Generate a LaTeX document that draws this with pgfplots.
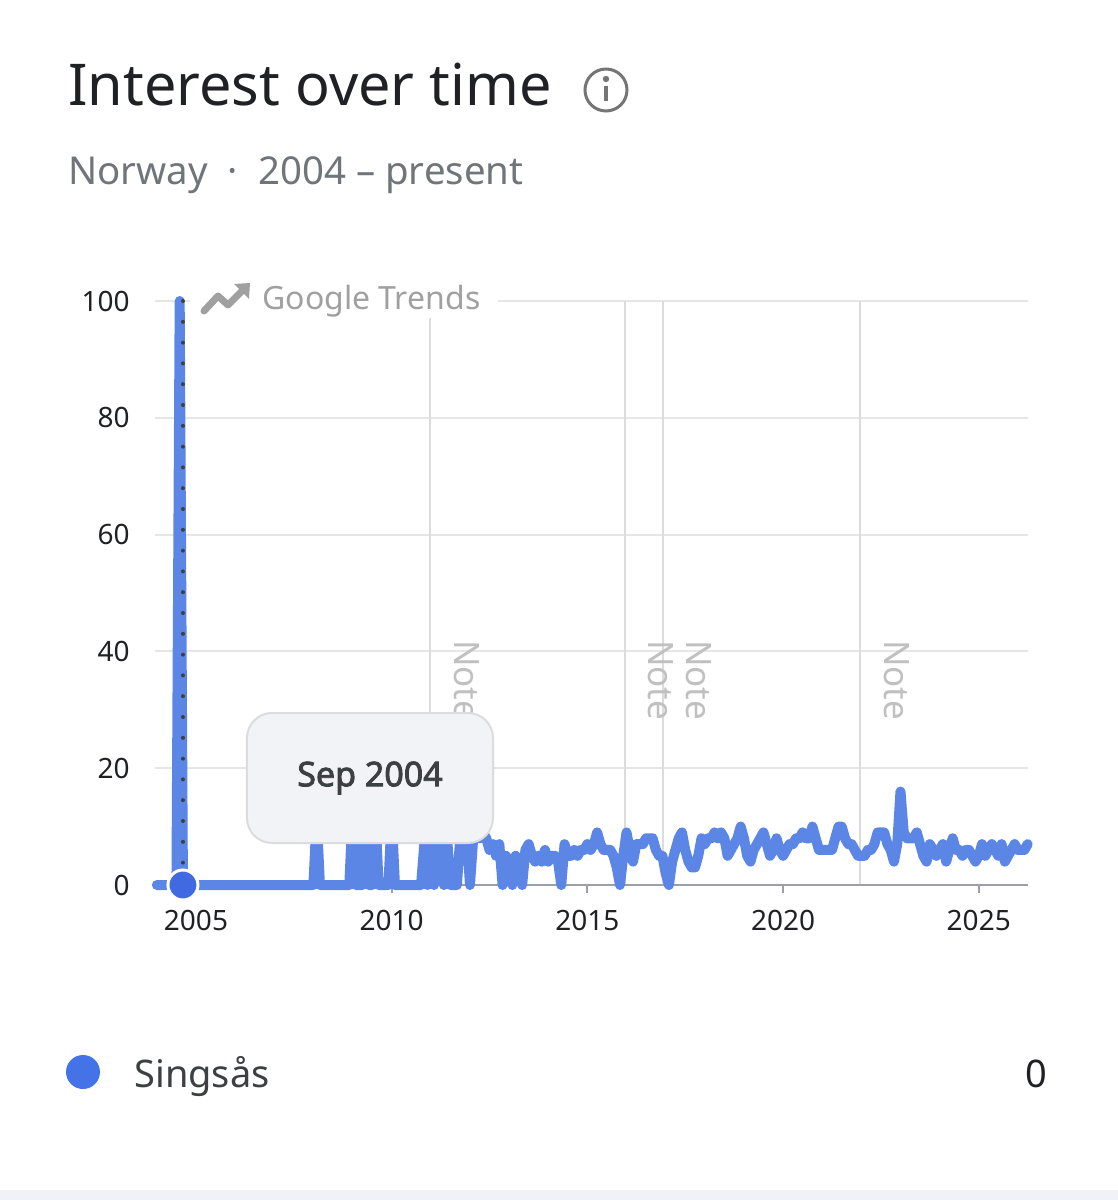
\documentclass[border=0pt]{standalone}
\usepackage{fontspec}
\setmainfont{Noto Sans}
\newfontfamily\tipfont{Noto Sans}[FakeBold=2.5]
\usepackage{pgfplots}
\usepackage{pgfplotstable}
\pgfplotsset{compat=1.18}
\definecolor{linecol}{RGB}{91,134,230}
\definecolor{dotcol}{RGB}{65,105,225}
\definecolor{legcol}{RGB}{68,115,232}
\definecolor{titlecol}{RGB}{32,33,36}
\definecolor{subcol}{RGB}{112,117,122}
\definecolor{tickcol}{RGB}{32,33,36}
\definecolor{gridcol}{RGB}{230,230,230}
\definecolor{notecol}{RGB}{220,220,222}
\definecolor{notetext}{RGB}{192,192,192}
\definecolor{axiscol}{RGB}{154,160,166}
\definecolor{logocol}{RGB}{160,160,160}
\definecolor{tipfill}{RGB}{241,243,247}
\definecolor{tipdraw}{RGB}{218,220,224}
\definecolor{tiptext}{RGB}{60,64,67}
\definecolor{bandcol}{RGB}{240,242,248}
\definecolor{dotline}{RGB}{60,64,67}
\definecolor{iconcol}{RGB}{117,117,117}

% monthly values, Jan 2004 ... Apr 2026 (one row of 12 per year)
\pgfplotstableread[row sep=\\]{
v\\
0\\0\\0\\0\\0\\0\\0\\100\\0\\0\\0\\0\\
0\\0\\0\\0\\0\\0\\0\\0\\0\\0\\0\\0\\
0\\0\\0\\0\\0\\0\\0\\0\\0\\0\\0\\0\\
0\\0\\0\\0\\0\\0\\0\\0\\0\\0\\0\\0\\
0\\12\\0\\0\\0\\0\\0\\0\\0\\0\\0\\0\\
12\\0\\0\\0\\12\\0\\0\\12\\0\\0\\0\\0\\
12\\0\\0\\0\\0\\0\\0\\0\\0\\0\\7\\0\\
8\\0\\9\\7\\0\\8\\0\\0\\0\\8\\7\\9\\
0\\8\\9\\8\\9\\8\\6\\7\\5\\7\\0\\5\\
4\\0\\5\\4\\0\\6\\7\\5\\4\\5\\4\\6\\
4\\5\\5\\4\\0\\7\\5\\5\\6\\5\\6\\6\\
7\\6\\7\\9\\7\\6\\6\\6\\5\\3\\0\\5\\
9\\6\\4\\7\\7\\7\\8\\8\\8\\6\\5\\5\\
2\\0\\4\\6\\8\\9\\6\\4\\3\\3\\5\\8\\
7\\8\\8\\9\\8\\9\\8\\5\\6\\7\\8\\10\\
8\\5\\4\\6\\7\\8\\9\\7\\5\\6\\8\\6\\
5\\6\\7\\7\\8\\8\\9\\8\\8\\10\\8\\6\\
6\\6\\6\\6\\8\\10\\10\\8\\7\\7\\6\\5\\
5\\5\\6\\6\\7\\9\\9\\9\\7\\6\\4\\7\\
16\\9\\8\\8\\8\\9\\7\\5\\4\\7\\6\\5\\
6\\7\\4\\6\\8\\6\\6\\5\\6\\6\\5\\4\\
5\\7\\5\\6\\7\\6\\5\\7\\4\\5\\6\\7\\
6\\6\\6\\7\\
}\trend

\begin{document}
\begin{tikzpicture}
% pixel frame: (px,py) from top-left of the 1118x1200 picture
\begin{scope}[x=0.5pt, y=-0.5pt, shift={(-77.5pt,442.5pt)}]
\fill[white] (0,0) rectangle (1118,1200);
\path[use as bounding box] (0,0) rectangle (1118,1200);
\fill[bandcol] (0,1190) rectangle (1118,1200);
\node[anchor=base west, inner sep=0pt, text=titlecol, font=\fontsize{28.8pt}{34pt}\selectfont] at (68,106) {Interest over time};
\draw[iconcol, line width=1.5pt] (606,90) circle (10.5pt);
\fill[iconcol] (606,79) circle (1.6pt);
\fill[iconcol] (604,86) rectangle (608,101);
\node[anchor=base west, inner sep=0pt, text=subcol, font=\fontsize{19.2pt}{23pt}\selectfont] at (68,185) {Norway\hspace{10pt}·\hspace{10pt}2004 – present};
\end{scope}

\begin{axis}[
  scale only axis, width=436.5pt, height=292pt,
  xmin=-0.57, xmax=267.1, ymin=0, ymax=100,
  clip=false,
  axis line style={draw=none},
  /pgf/number format/assume math mode=true,
  xtick={12,72,132,192,252},
  xticklabels={2005,2010,2015,2020,2025},
  ytick={0,20,40,60,80,100},
  tick align=outside, major tick length=4pt,
  tick pos=left,
  xtick style={draw=axiscol, line width=1pt},
  ytick style={draw=none},
  ymajorgrids,
  major grid style={draw=gridcol, line width=1pt},
  ticklabel style={font=\fontsize{14pt}{16pt}\selectfont, text=tickcol},
  yticklabel style={anchor=east, inner sep=0pt, xshift=-8.5pt},
  xticklabel style={anchor=north, inner sep=0pt, yshift=-8.5pt},
]
\draw[notecol, line width=1pt] (axis cs:83.7,0) -- (axis cs:83.7,100);
\draw[notecol, line width=1pt] (axis cs:143.5,0) -- (axis cs:143.5,100);
\draw[notecol, line width=1pt] (axis cs:155.1,0) -- (axis cs:155.1,100);
\draw[notecol, line width=1pt] (axis cs:215.5,0) -- (axis cs:215.5,100);
\node[rotate=-90, anchor=west, inner sep=0pt, text=notetext, font=\fontsize{17.5pt}{20pt}\selectfont] at (axis cs:95.1,42) {Note};
\node[rotate=-90, anchor=west, inner sep=0pt, text=notetext, font=\fontsize{17.5pt}{20pt}\selectfont] at (axis cs:154.5,42) {Note};
\node[rotate=-90, anchor=west, inner sep=0pt, text=notetext, font=\fontsize{17.5pt}{20pt}\selectfont] at (axis cs:166.1,42) {Note};
\node[rotate=-90, anchor=west, inner sep=0pt, text=notetext, font=\fontsize{17.5pt}{20pt}\selectfont] at (axis cs:226.9,42) {Note};
\draw[axiscol, line width=1pt] (axis cs:-0.57,0) -- (axis cs:267.1,0);
\addplot[linecol, line width=5pt, line join=round, line cap=round, mark=none] table[x expr=\coordindex, y=v] {\trend};
\draw[dotline, line width=2pt, line cap=round, dash pattern=on 0pt off 10.4pt] (axis cs:8,100) -- (axis cs:8,0);
\addplot[only marks, mark=*, mark size=7.5pt, mark options={fill=dotcol, draw=white, line width=1.5pt}] coordinates {(8,0)};
\end{axis}

\begin{scope}[x=0.5pt, y=-0.5pt, shift={(-77.5pt,442.5pt)}]
% Google Trends logo
\fill[white] (190,285) rectangle (498,318);
\draw[logocol, line width=3.5pt, line cap=round, line join=round] (204,311) -- (218,296) -- (228,305) -- (243,290);
\fill[logocol] (234,284) -- (250,283) -- (249,299) -- cycle;
\node[anchor=base west, inner sep=0pt, text=logocol, font=\fontsize{16pt}{19pt}\selectfont] at (262,310) {Google Trends};
% tooltip
\draw[fill=tipfill, draw=tipdraw, line width=1pt, rounded corners=12.5pt] (247,713) rectangle (493,843);
\node[inner sep=0pt, text=tiptext, font=\tipfont\fontsize{17pt}{20pt}\selectfont] at (370,778) {Sep 2004};
% legend
\fill[legcol] (83,1072) circle (8.5pt);
\node[anchor=base west, inner sep=0pt, text=tiptext, font=\fontsize{19pt}{22pt}\selectfont] at (134,1087) {Singsås};
\node[anchor=base east, inner sep=0pt, text=titlecol, font=\fontsize{19pt}{22pt}\selectfont] at (1048,1087) {0};
\end{scope}
\end{tikzpicture}
\end{document}
